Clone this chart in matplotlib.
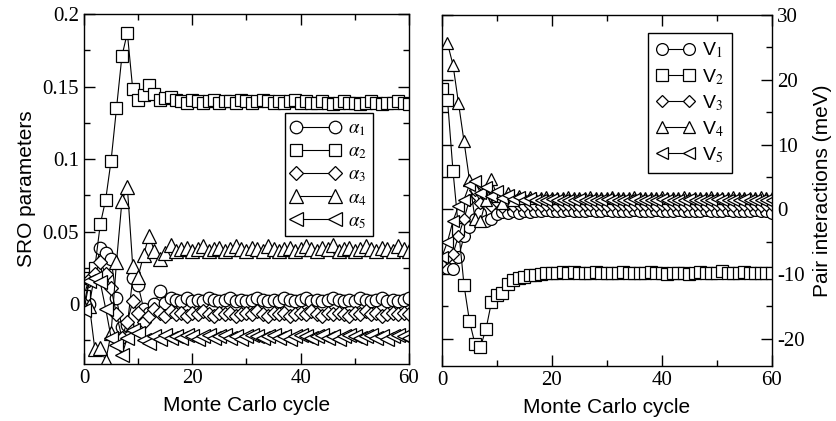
import numpy as np
import matplotlib
matplotlib.use("Agg")
import matplotlib.pyplot as plt
from matplotlib.ticker import MultipleLocator, FixedLocator

plt.rcParams['axes.unicode_minus'] = False
plt.rcParams['mathtext.fontset'] = 'stix'

# ---------------- data ----------------
cycles = list(range(0, 61))

alpha1 = [0.002, 0.000, 0.021, 0.039, 0.035, 0.031, 0.004, -0.016, -0.014, 0.018, 0.013,
          -0.003, -0.006, 0.000, 0.009, 0.001, 0.004,
          0.003, 0.002, 0.004, 0.002, 0.003, 0.002, 0.004, 0.003, 0.002, 0.003, 0.004,
          0.002, 0.003, 0.002, 0.003, 0.004, 0.003, 0.002, 0.003, 0.002, 0.004, 0.003,
          0.002, 0.003, 0.004, 0.002, 0.003, 0.002, 0.003, 0.004, 0.003, 0.002, 0.003,
          0.002, 0.004, 0.003, 0.002, 0.003, 0.004, 0.002, 0.003, 0.002, 0.003, 0.004]

alpha2 = [0.006, 0.018, 0.025, 0.055, 0.072, 0.099, 0.135, 0.171, 0.187, 0.148, 0.141,
          0.144, 0.151, 0.145, 0.141, 0.142, 0.143,
          0.141, 0.140, 0.139, 0.141, 0.140, 0.139, 0.140, 0.141, 0.139, 0.140, 0.140,
          0.139, 0.141, 0.140, 0.139, 0.140, 0.141, 0.140, 0.139, 0.140, 0.139, 0.140,
          0.141, 0.139, 0.140, 0.139, 0.139, 0.140, 0.139, 0.138, 0.139, 0.140, 0.139,
          0.139, 0.138, 0.139, 0.140, 0.139, 0.138, 0.139, 0.139, 0.140, 0.139, 0.138]

alpha3 = [0.000, 0.017, 0.021, 0.029, 0.021, 0.011, -0.007, -0.023, -0.012, 0.002, -0.006,
          -0.012, -0.008, -0.003, -0.006, -0.008, -0.005,
          -0.007, -0.006, -0.008, -0.006, -0.007, -0.005, -0.007, -0.008, -0.006, -0.007, -0.006,
          -0.008, -0.007, -0.006, -0.007, -0.005, -0.007, -0.008, -0.006, -0.007, -0.006, -0.008,
          -0.007, -0.006, -0.007, -0.005, -0.007, -0.008, -0.006, -0.007, -0.006, -0.007, -0.008,
          -0.006, -0.007, -0.005, -0.007, -0.006, -0.008, -0.007, -0.006, -0.007, -0.006, -0.007]

alpha4 = [-0.002, -0.001, -0.031, -0.030, -0.039, -0.020, 0.029, 0.071, 0.081, 0.026, 0.019,
          0.034, 0.047, 0.037, 0.031, 0.035, 0.041,
          0.037, 0.038, 0.039, 0.037, 0.038, 0.040, 0.037, 0.038, 0.039, 0.037, 0.038,
          0.040, 0.038, 0.037, 0.039, 0.038, 0.037, 0.040, 0.038, 0.037, 0.038, 0.039,
          0.037, 0.038, 0.040, 0.038, 0.037, 0.039, 0.038, 0.041, 0.037, 0.038, 0.039,
          0.037, 0.038, 0.040, 0.038, 0.037, 0.039, 0.038, 0.037, 0.040, 0.038, 0.037]

alpha5 = [-0.004, 0.016, 0.018, 0.015, -0.003, -0.023, -0.028, -0.035, -0.023, -0.018, -0.020,
          -0.025, -0.027, -0.022, -0.024, -0.021, -0.023,
          -0.022, -0.023, -0.021, -0.022, -0.024, -0.022, -0.021, -0.023, -0.022, -0.021, -0.023,
          -0.022, -0.024, -0.022, -0.021, -0.022, -0.023, -0.022, -0.021, -0.023, -0.022, -0.024,
          -0.022, -0.021, -0.022, -0.023, -0.022, -0.021, -0.023, -0.022, -0.024, -0.022, -0.021,
          -0.022, -0.023, -0.022, -0.021, -0.023, -0.022, -0.024, -0.022, -0.021, -0.022, -0.023]

V1 = [-8.5, -9.0, -9.2, -7.4, -4.2, -2.8, -1.5, -0.6, -1.8, -1.5, -0.8,
      -0.4, -0.6, -0.3, -0.5, -0.2, -0.4,
      -0.2, -0.3, -0.1, -0.2, -0.3, -0.2, -0.1, -0.3, -0.2, -0.2, -0.1,
      -0.3, -0.2, -0.1, -0.2, -0.3, -0.2, -0.2, -0.1, -0.3, -0.2, -0.2,
      -0.1, -0.2, -0.3, -0.2, -0.1, -0.2, -0.3, -0.2, -0.2, -0.1, -0.2,
      -0.3, -0.2, -0.1, -0.2, -0.3, -0.2, -0.2, -0.1, -0.3, -0.2, -0.5]

V2 = [18.5, 16.9, 5.9, -3.0, -11.7, -17.3, -20.8, -21.2, -18.5, -14.3, -13.2,
      -13.0, -11.5, -10.9, -10.6, -10.4, -10.2,
      -10.1, -10.0, -9.9, -9.8, -9.8, -9.7, -9.8, -9.7, -9.8, -9.9, -9.8,
      -9.7, -9.8, -9.8, -9.9, -9.8, -9.7, -9.8, -9.8, -9.9, -9.8, -9.7,
      -9.8, -9.9, -10.0, -9.8, -9.8, -9.9, -10.0, -9.8, -9.7, -9.8, -9.9,
      -9.8, -9.6, -9.8, -9.9, -9.8, -9.7, -9.8, -9.9, -9.8, -9.8, -9.9]

V3 = [-8.2, -7.5, -6.9, -4.1, -1.5, 1.5, 3.0, 1.0, 2.0, 0.5, 1.2,
      0.3, 0.8, 0.5, 0.7, 0.5, 0.6,
      0.6, 0.5, 0.7, 0.6, 0.5, 0.6, 0.7, 0.6, 0.5, 0.6, 0.6,
      0.7, 0.6, 0.5, 0.6, 0.6, 0.7, 0.5, 0.6, 0.6, 0.7, 0.6,
      0.5, 0.6, 0.7, 0.6, 0.6, 0.5, 0.6, 0.7, 0.6, 0.5, 0.6,
      0.6, 0.7, 0.6, 0.5, 0.6, 0.6, 0.7, 0.6, 0.5, 0.6, 0.6]

V4 = [np.nan, 25.6, 22.3, 16.4, 10.5, 4.5, -1.5, -1.8, 1.5, 4.6, 2.0,
      1.0, 2.5, 1.5, 2.0, 1.7, 1.9,
      1.8, 1.7, 1.9, 1.8, 1.7, 1.8, 1.9, 1.8, 1.7, 1.8, 1.9,
      1.8, 1.7, 1.8, 1.9, 1.8, 1.7, 1.8, 1.9, 1.8, 1.8, 1.7,
      1.8, 1.9, 1.8, 1.7, 1.8, 1.9, 1.8, 1.8, 1.7, 1.8, 1.9,
      1.8, 1.7, 1.8, 1.9, 1.8, 1.8, 1.7, 1.8, 1.9, 1.8, 1.8]

V5 = [-7.3, -5.0, -1.8, 0.5, 1.5, 3.8, 4.3, 2.5, 3.5, 2.0, 2.8,
      1.8, 2.2, 1.6, 1.9, 1.5, 1.7,
      1.5, 1.4, 1.5, 1.6, 1.5, 1.4, 1.5, 1.5, 1.6, 1.4, 1.5,
      1.5, 1.4, 1.6, 1.5, 1.5, 1.4, 1.5, 1.6, 1.5, 1.4, 1.5,
      1.5, 1.6, 1.4, 1.5, 1.5, 1.4, 1.6, 1.5, 1.5, 1.4, 1.5,
      1.6, 1.5, 1.4, 1.5, 1.5, 1.6, 1.4, 1.5, 1.5, 1.4, 1.5]

alpha_labels = [r'$\alpha_1$', r'$\alpha_2$', r'$\alpha_3$', r'$\alpha_4$', r'$\alpha_5$']
V_labels = ['V$_1$', 'V$_2$', 'V$_3$', 'V$_4$', 'V$_5$']

# ---------------- styling ----------------
markers = ['o', 's', 'D', '^', '<']
msizes_left = [9, 8.5, 7, 9.5, 9.5]
msizes_right = [8.5, 8, 6.5, 9, 9]
serif = 'Liberation Serif'
sans = 'Liberation Sans'

fig = plt.figure(figsize=(8.37, 4.21), dpi=100)
ax1 = fig.add_axes([84/837, 1-364/421, (409-84)/837, (364-14)/421])
ax2 = fig.add_axes([442/837, 1-366/421, (772-442)/837, (366-15)/421])


def style_axes(ax):
    for s in ax.spines.values():
        s.set_linewidth(1.0)
    ax.tick_params(which='both', direction='in', top=True, bottom=True,
                   left=True, right=True, width=1.0, labelsize=15,
                   labelfontfamily=serif)
    ax.tick_params(which='major', length=8)
    ax.tick_params(which='minor', length=4)


# left panel
for i, (ys, lab) in enumerate(zip([alpha1, alpha2, alpha3, alpha4, alpha5], alpha_labels)):
    ax1.plot(cycles, ys, color='black', lw=0.8, marker=markers[i], ms=msizes_left[i],
             mfc='white', mec='black', mew=0.9, label=lab)
ax1.set_xlim(0, 60)
ax1.set_ylim(-0.0412, 0.2)
ax1.xaxis.set_major_locator(FixedLocator([0, 20, 40, 60]))
ax1.xaxis.set_minor_locator(FixedLocator([10, 30, 50]))
ax1.yaxis.set_major_locator(FixedLocator([0, 0.05, 0.1, 0.15, 0.2]))
ax1.yaxis.set_minor_locator(FixedLocator([-0.025, 0.025, 0.075, 0.125, 0.175]))
ax1.set_yticklabels(['0', '0.05', '0.1', '0.15', '0.2'])
style_axes(ax1)
ax1.tick_params(labelright=False, labeltop=False)
ax1.set_xlabel('Monte Carlo cycle', fontsize=15, family=sans, labelpad=6)
ax1.set_ylabel('SRO parameters', fontsize=15, family=sans, labelpad=5)
leg1 = ax1.legend(loc='upper right', bbox_to_anchor=(372.7/837, 1-113/421),
                  bbox_transform=fig.transFigure, borderaxespad=0,
                  fancybox=False, framealpha=1, edgecolor='black',
                  handlelength=2.7, numpoints=2, fontsize=13.5, labelspacing=0.18,
                  handletextpad=0.4, borderpad=0.3)
leg1.get_frame().set_linewidth(1.0)

# right panel
for i, (ys, lab) in enumerate(zip([V1, V2, V3, V4, V5], V_labels)):
    ax2.plot(cycles, ys, color='black', lw=0.8, marker=markers[i], ms=msizes_right[i],
             mfc='white', mec='black', mew=0.9, label=lab)
ax2.set_xlim(0, 60)
ax2.set_ylim(-24.2, 30)
ax2.xaxis.set_major_locator(FixedLocator([0, 20, 40, 60]))
ax2.xaxis.set_minor_locator(FixedLocator([10, 30, 50]))
ax2.yaxis.set_major_locator(MultipleLocator(10))
ax2.yaxis.set_minor_locator(MultipleLocator(5))
style_axes(ax2)
ax2.tick_params(labelleft=False, labelright=True, labeltop=False)
ax2.yaxis.set_label_position('right')
ax2.set_xlabel('Monte Carlo cycle', fontsize=15, family=sans, labelpad=6)
ax2.set_ylabel('Pair interactions (meV)', fontsize=15, family=sans, labelpad=6)
leg2 = ax2.legend(loc='upper right', bbox_to_anchor=(732/837, 1-33/421),
                  bbox_transform=fig.transFigure, borderaxespad=0,
                  fancybox=False, framealpha=1, edgecolor='black',
                  handlelength=2.0, numpoints=2,
                  prop={'family': sans, 'size': 14}, labelspacing=0.33,
                  handletextpad=0.4, borderpad=0.4)
leg2.get_frame().set_linewidth(1.0)

fig.savefig('out.png', dpi=100)
